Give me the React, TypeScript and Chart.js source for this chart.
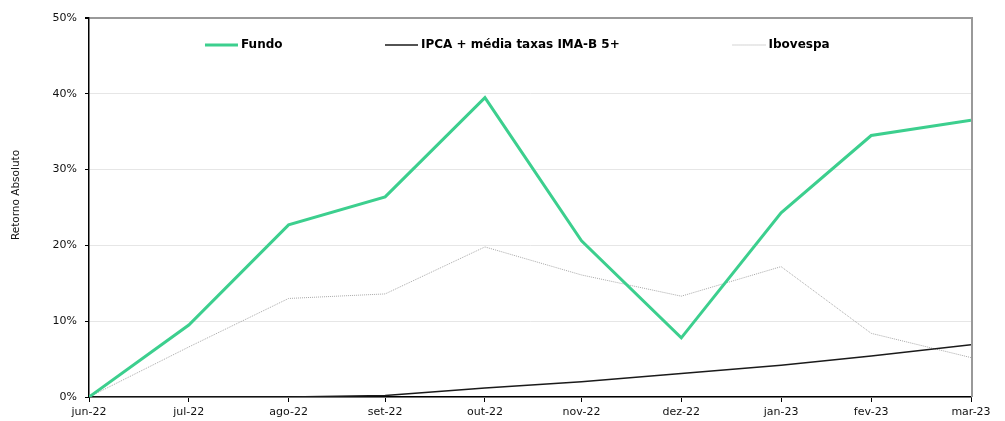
import React, { useEffect, useRef } from "react";
import { Chart, registerables } from "chart.js";

Chart.register(...registerables);

const dates = ["2022-06-30", "2022-07-31", "2022-08-31", "2022-09-30", "2022-10-31", "2022-11-30", "2022-12-31", "2023-01-31", "2023-02-28", "2023-03-31"];
const tickLabels = ["jun-22", "jul-22", "ago-22", "set-22", "out-22", "nov-22", "dez-22", "jan-23", "fev-23", "mar-23"];
const fundo = [0, 9.5, 22.7, 26.4, 39.5, 20.6, 7.8, 24.3, 34.5, 36.5];
const ipca = [0, 0, 0, 0.2, 1.2, 2.0, 3.1, 4.2, 5.4, 6.9];
const ibovespa = [0, 6.6, 13.0, 13.6, 19.8, 16.1, 13.3, 17.2, 8.4, 5.2];
const seriesNames = ["Fundo", "IPCA + média taxas IMA-B 5+", "Ibovespa"];
const yTicks = [0, 10, 20, 30, 40, 50];
const axisTitle = "Retorno Absoluto";

const dayMs = 86400000;
const toDay = (s: string) => {
  const [y, m, d] = s.split("-").map(Number);
  return Date.UTC(y, m - 1, d) / dayMs;
};
const base = toDay(dates[0]);
const xs = dates.map((d) => toDay(d) - base);

const COLORS = ["#3ccf8e", "#1a1a1a", "#a8a8a8"];
const FONT = "'DejaVu Sans', Verdana, sans-serif";

export default function App() {
  const ref = useRef<HTMLCanvasElement | null>(null);
  useEffect(() => {
    document.body.style.margin = "0";
    const canvas = ref.current!;
    const mk = (vals: number[]) => vals.map((v, i) => ({ x: xs[i], y: v }));

    const extras = {
      id: "extras",
      afterDraw(chart: any) {
        const { ctx, chartArea } = chart;
        const a = chartArea;
        ctx.save();
        ctx.strokeStyle = "#999";
        ctx.lineWidth = 2;
        ctx.beginPath();
        ctx.moveTo(a.right + 1, a.top - 1);
        ctx.lineTo(a.right + 1, a.bottom);
        ctx.stroke();
        ctx.fillStyle = "#111";
        ctx.font = `10.5px ${FONT}`;
        ctx.translate(16, 195);
        ctx.rotate(-Math.PI / 2);
        ctx.textAlign = "center";
        ctx.textBaseline = "middle";
        ctx.fillText(axisTitle, 0, 0);
        ctx.restore();

        ctx.save();
        const fracs = [0.1315, 0.3356, 0.7296];
        const ly = a.top + 27;
        ctx.font = `bold 12px ${FONT}`;
        ctx.textBaseline = "middle";
        ctx.fillStyle = "#000";
        seriesNames.forEach((name, i) => {
          const x0 = a.left + fracs[i] * (a.right - a.left);
          ctx.beginPath();
          ctx.strokeStyle = COLORS[i];
          ctx.lineWidth = i === 0 ? 3 : i === 1 ? 1.5 : 1;
          ctx.setLineDash(i === 2 ? [1, 1] : []);
          ctx.moveTo(x0, ly);
          ctx.lineTo(x0 + 33, ly);
          ctx.stroke();
          ctx.setLineDash([]);
          ctx.fillText(name, x0 + 36, ly);
        });
        ctx.restore();
      },
    };

    const chart = new Chart(canvas, {
      type: "line",
      data: {
        datasets: [
          { label: seriesNames[0], data: mk(fundo), borderColor: COLORS[0], borderWidth: 3, pointRadius: 0, tension: 0 },
          { label: seriesNames[1], data: mk(ipca), borderColor: COLORS[1], borderWidth: 1.5, pointRadius: 0, tension: 0 },
          { label: seriesNames[2], data: mk(ibovespa), borderColor: COLORS[2], borderWidth: 1, borderDash: [1, 1], pointRadius: 0, tension: 0 },
        ],
      },
      options: {
        responsive: false,
        animation: false,
        layout: { padding: { left: 0, right: 34, top: 18, bottom: 0 } },
        plugins: { legend: { display: false }, tooltip: { enabled: false } },
        scales: {
          x: {
            type: "linear",
            min: xs[0],
            max: xs[xs.length - 1],
            afterBuildTicks: (s: any) => {
              s.ticks = xs.map((v) => ({ value: v }));
            },
            afterFit: (s: any) => {
              s.height = 24;
            },
            ticks: {
              autoSkip: false,
              maxRotation: 0,
              padding: 4,
              color: "#111",
              font: { family: FONT, size: 11 },
              callback: (v: any) => {
                const i = xs.indexOf(Number(v));
                return i >= 0 ? tickLabels[i] : "";
              },
            },
            grid: { display: true, drawOnChartArea: false, drawTicks: true, tickLength: 5, tickColor: "#000", color: "#000" },
            border: { color: "#000", width: 1.5 },
          },
          y: {
            min: 0,
            max: 50,
            afterBuildTicks: (s: any) => {
              s.ticks = yTicks.map((v) => ({ value: v }));
            },
            afterFit: (s: any) => {
              s.width = 89;
            },
            ticks: {
              padding: 8,
              color: "#111",
              font: { family: FONT, size: 11 },
              callback: (v: any) => `${v}%`,
            },
            grid: {
              drawTicks: true,
              tickLength: 4,
              tickColor: "#000",
              color: (c: any) => (c.tick && c.tick.value === 50 ? "#999" : "#e6e6e6"),
              lineWidth: (c: any) => (c.tick && c.tick.value === 50 ? 2 : 1),
            },
            border: { color: "#000", width: 1.5 },
          },
        },
      },
      plugins: [extras],
    });
    return () => chart.destroy();
  }, []);
  return <canvas ref={ref} width={1005} height={421} style={{ display: "block" }} />;
}
